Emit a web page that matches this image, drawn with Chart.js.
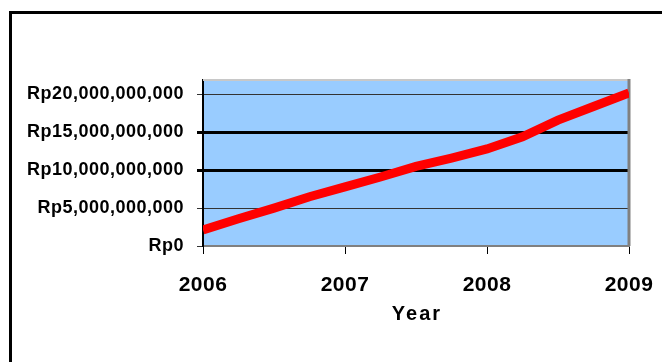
<!DOCTYPE html>
<html>
<head>
<meta charset="utf-8">
<script src="https://cdn.jsdelivr.net/npm/chart.js@4/dist/chart.umd.min.js"></script>
<style>
  html, body { margin: 0; padding: 0; background: #fff; overflow: hidden; }
  #moldura { position: absolute; left: 9px; top: 11px; width: 700px; height: 400px; border: 3px solid #000; }
  #meuGrafico { position: absolute; left: 0; top: 0; }
</style>
</head>
<body>
<div id="moldura"></div>
<canvas id="meuGrafico" width="662" height="362"></canvas>
<script>
// dados (ano, valor em rupias)
const anos = [2006, 2006.25, 2006.5, 2006.75, 2007, 2007.25, 2007.5, 2007.75, 2008, 2008.25, 2008.5, 2008.75, 2009];
const valores = [2.1e9, 3.6e9, 5.0e9, 6.5e9, 7.8e9, 9.1e9, 10.5e9, 11.6e9, 12.8e9, 14.4e9, 16.6e9, 18.4e9, 20.2e9];
const ticksY = [0, 5e9, 10e9, 15e9, 20e9];
const ticksX = [2006, 2007, 2008, 2009];
const linhasGrossas = [10e9, 15e9];

// fundo azul e moldura da área do gráfico
const fundoPlot = {
  id: 'fundoPlot',
  beforeLayout(chart) { chart.ctx.letterSpacing = '0.5px'; },
  beforeDraw(chart) {
    const { ctx, chartArea: a } = chart;
    ctx.letterSpacing = '0.5px';
    ctx.save();
    ctx.fillStyle = '#99CCFF';
    ctx.fillRect(a.left, a.top, a.right - a.left, a.bottom - a.top);
    ctx.restore();
  },
  beforeDatasetsDraw(chart) {
    const { ctx, chartArea: a } = chart;
    ctx.save();
    ctx.strokeStyle = '#c8c8c8';
    ctx.lineWidth = 2;
    ctx.beginPath();
    ctx.moveTo(a.left, a.top);
    ctx.lineTo(a.right, a.top);
    ctx.stroke();
    ctx.strokeStyle = '#808080';
    ctx.lineWidth = 3;
    ctx.beginPath();
    ctx.moveTo(a.right, a.top - 1);
    ctx.lineTo(a.right, a.bottom);
    ctx.stroke();
    ctx.restore();
  },
  afterDraw(chart) {
    // título do eixo X com letras espaçadas
    const { ctx, chartArea: a } = chart;
    ctx.save();
    ctx.letterSpacing = '2px';
    ctx.font = 'bold 20px "Liberation Sans"';
    ctx.fillStyle = '#000';
    ctx.textAlign = 'center';
    ctx.textBaseline = 'middle';
    ctx.fillText('Year', (a.left + a.right) / 2 + 1, chart.scales.x.bottom - 12);
    ctx.restore();
  }
};

const ctx = document.getElementById('meuGrafico').getContext('2d');
new Chart(ctx, {
  type: 'line',
  data: {
    datasets: [{
      data: anos.map((a, i) => ({ x: a, y: valores[i] })),
      borderColor: '#FF0000',
      borderWidth: 9,
      pointRadius: 0,
      tension: 0,
      fill: false
    }]
  },
  options: {
    responsive: false,
    animation: false,
    layout: { padding: { top: 80, right: 33, left: 0, bottom: 36 } },
    plugins: { legend: { display: false }, tooltip: { enabled: false } },
    scales: {
      x: {
        type: 'linear',
        min: 2006,
        max: 2009,
        afterBuildTicks: (s) => { s.ticks = ticksX.map(v => ({ value: v })); },
        afterFit: (s) => { s.height = 80; s.paddingLeft = 0; s.paddingRight = 0; },
        ticks: {
          color: '#000',
          font: { family: 'Liberation Sans', size: 21, weight: 'bold' },
          padding: 19,
          maxRotation: 0,
          callback: (v) => String(v)
        },
        grid: { drawOnChartArea: false, drawTicks: true, tickLength: 8, color: '#000', lineWidth: 1 },
        border: { color: '#808080', width: 2 },
        title: { display: false, text: 'Year' }
      },
      y: {
        min: 0,
        max: 21.9e9,
        afterBuildTicks: (s) => { s.ticks = ticksY.map(v => ({ value: v })); },
        afterFit: (s) => { s.width = 203; },
        ticks: {
          color: '#000',
          font: { family: 'Liberation Sans', size: 18, weight: 'bold' },
          padding: 13,
          callback: (v) => 'Rp' + Number(v).toLocaleString('en-US')
        },
        grid: {
          tickLength: 6,
          color: (c) => linhasGrossas.includes(c.tick && c.tick.value) ? '#000' : '#333',
          lineWidth: (c) => linhasGrossas.includes(c.tick && c.tick.value) ? 3 : 1
        },
        border: { color: '#000', width: 2 }
      }
    }
  },
  plugins: [fundoPlot]
});
</script>
</body>
</html>
